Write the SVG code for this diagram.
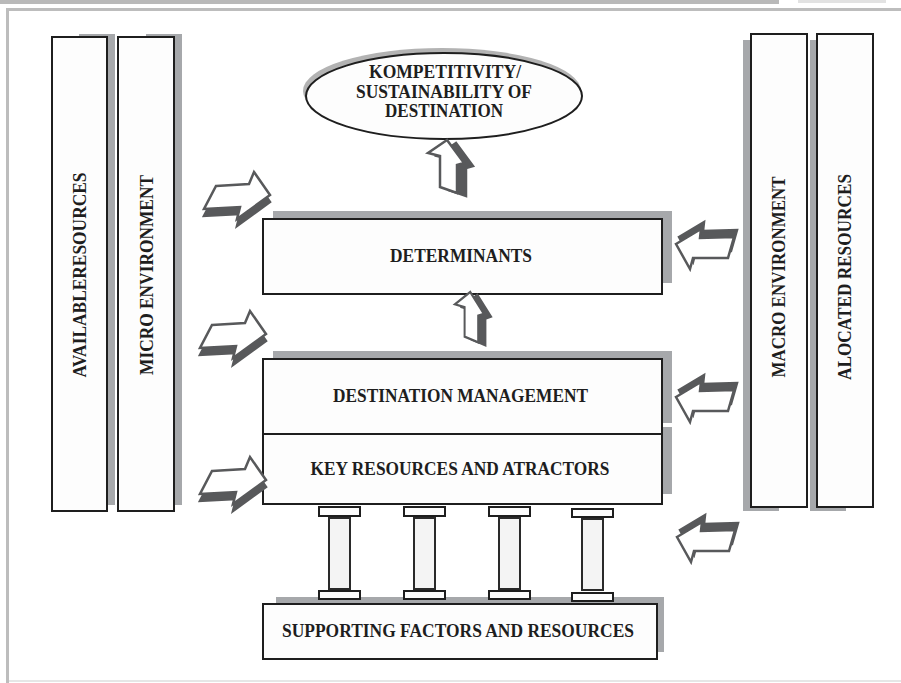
<svg xmlns="http://www.w3.org/2000/svg" width="901" height="683" viewBox="0 0 901 683">
<defs>
<style>
.bg{fill:#ffffff}
.sh{fill:#a6a8ab}
.box{fill:#fdfdfd;stroke:#1e1e1e;stroke-width:2}
.t{font-family:"Liberation Serif","Times New Roman",serif;font-weight:bold;font-size:18.5px;fill:#1e1e1e;text-anchor:middle}
.af{fill:#ffffff;stroke:#58595b;stroke-width:2.5;stroke-linejoin:miter}
.ad{fill:#58595b;stroke:#58595b;stroke-width:2.5}
.cap{fill:#fdfdfd;stroke:#1e1e1e;stroke-width:2}
.shaft{fill:#f4f4f4;stroke:#2a2a2a;stroke-width:2}
</style>
<polygon id="arR" points="12,14 45,12 50,0 66,23 33,47 36,35 0,37"/>
<polygon id="arL" points="0,22 25,7 24,16 58,15 52,36 17,36 14,47"/>
<polygon id="arU" points="19,0 0,13 12,16 12,47 29,53 29,25 36,23"/>
</defs>
<rect class="bg" x="0" y="0" width="901" height="683"/>
<g id="frame">
<rect x="0" y="0" width="779" height="4" fill="#b9b9b9"/>
<rect x="798" y="0" width="88" height="3" fill="#e2e2e2"/>
<rect x="6" y="8" width="895" height="3" fill="#bdbdbd"/>
<rect x="6" y="8" width="3" height="675" fill="#bdbdbd"/>
<rect x="9" y="680" width="892" height="2" fill="#e6e6e6"/>
</g>

<g id="available-resources">
<rect class="sh" x="79" y="34" width="36" height="471"/>
<rect class="box" x="52" y="37" width="55" height="474"/>
<text class="t" transform="translate(85.5,275) rotate(-90)" textLength="205" lengthAdjust="spacingAndGlyphs">AVAILABLERESOURCES</text>
</g>
<g id="micro-environment">
<rect class="sh" x="146" y="34" width="36" height="471"/>
<rect class="box" x="118" y="37" width="56" height="474"/>
<text class="t" transform="translate(152.5,275) rotate(-90)" textLength="200" lengthAdjust="spacingAndGlyphs">MICRO ENVIRONMENT</text>
</g>
<g id="macro-environment">
<rect class="sh" x="743" y="40" width="36" height="471"/>
<rect class="box" x="751" y="34" width="56" height="473"/>
<text class="t" transform="translate(784.5,277) rotate(-90)" textLength="201" lengthAdjust="spacingAndGlyphs">MACRO ENVIRONMENT</text>
</g>
<g id="alocated-resources">
<rect class="sh" x="810" y="40" width="36" height="471"/>
<rect class="box" x="817" y="34" width="56" height="473"/>
<text class="t" transform="translate(851,277) rotate(-90)" textLength="206" lengthAdjust="spacingAndGlyphs">ALOCATED RESOURCES</text>
</g>

<g id="competitiveness">
<ellipse cx="442" cy="91" rx="139" ry="43" fill="#b3b3b3"/>
<ellipse cx="444" cy="96" rx="138" ry="43" fill="#fdfdfd" stroke="#1e1e1e" stroke-width="2"/>
<text class="t" x="445" y="78" textLength="152" lengthAdjust="spacingAndGlyphs">KOMPETITIVITY/</text>
<text class="t" x="444" y="98" textLength="176" lengthAdjust="spacingAndGlyphs">SUSTAINABILITY OF</text>
<text class="t" x="444" y="117" textLength="118" lengthAdjust="spacingAndGlyphs">DESTINATION</text>
</g>

<g id="determinants">
<rect class="sh" x="273" y="211" width="399" height="72"/>
<rect class="box" x="263" y="219" width="399" height="75"/>
<text class="t" x="461" y="262" textLength="142" lengthAdjust="spacingAndGlyphs">DETERMINANTS</text>
</g>

<g id="destination-management">
<rect class="sh" x="273" y="351" width="399" height="72"/>
<rect class="sh" x="600" y="427" width="72" height="67"/>
<rect class="box" x="263" y="359" width="399" height="75"/>
<text class="t" x="460.5" y="402" textLength="255" lengthAdjust="spacingAndGlyphs">DESTINATION MANAGEMENT</text>
</g>
<g id="key-resources">
<rect class="box" x="263" y="434" width="399" height="70"/>
<text class="t" x="460" y="475" textLength="299" lengthAdjust="spacingAndGlyphs">KEY RESOURCES AND ATRACTORS</text>
</g>

<g id="supporting-factors">
<rect class="sh" x="276" y="597" width="388" height="55"/>
<rect class="box" x="263" y="604" width="394" height="55"/>
<text class="t" x="458" y="637" textLength="352" lengthAdjust="spacingAndGlyphs">SUPPORTING FACTORS AND RESOURCES</text>
</g>

<g id="pillars">
<g id="pillar-1">
<rect class="shaft" x="329" y="518" width="21" height="71"/>
<rect class="cap" x="319" y="507" width="41" height="9"/>
<rect class="cap" x="319" y="591" width="41" height="8"/>
</g>
<g id="pillar-2">
<rect class="shaft" x="414" y="518" width="21" height="71"/>
<rect class="cap" x="404" y="507" width="41" height="9"/>
<rect class="cap" x="404" y="591" width="41" height="8"/>
</g>
<g id="pillar-3">
<rect class="shaft" x="499" y="518" width="21" height="71"/>
<rect class="cap" x="489" y="507" width="41" height="9"/>
<rect class="cap" x="489" y="591" width="41" height="8"/>
</g>
<g id="pillar-4">
<rect class="shaft" x="582" y="519" width="21" height="71"/>
<rect class="cap" x="572" y="509" width="41" height="8"/>
<rect class="cap" x="572" y="593" width="41" height="8"/>
</g>
</g>

<g id="connectors">
<g transform="translate(428,140)"><use href="#arU" class="ad" transform="translate(9,3)"/><use href="#arU" class="af"/></g>
<g transform="translate(455,292) scale(0.8,0.95)"><use href="#arU" class="ad" transform="translate(9,3)"/><use href="#arU" class="af"/></g>
<g transform="translate(204,172)"><use href="#arR" class="ad" transform="translate(0,7)"/><use href="#arR" class="af"/></g>
<g transform="translate(200,311)"><use href="#arR" class="ad" transform="translate(0,7)"/><use href="#arR" class="af"/></g>
<g transform="translate(200,457)"><use href="#arR" class="ad" transform="translate(0,7)"/><use href="#arR" class="af"/></g>
<g transform="translate(676,222)"><use href="#arL" class="ad" transform="translate(3,-7)"/><use href="#arL" class="af"/></g>
<g transform="translate(676,375)"><use href="#arL" class="ad" transform="translate(3,-7)"/><use href="#arL" class="af"/></g>
<g transform="translate(677,515)"><use href="#arL" class="ad" transform="translate(3,-7)"/><use href="#arL" class="af"/></g>
</g>
</svg>
